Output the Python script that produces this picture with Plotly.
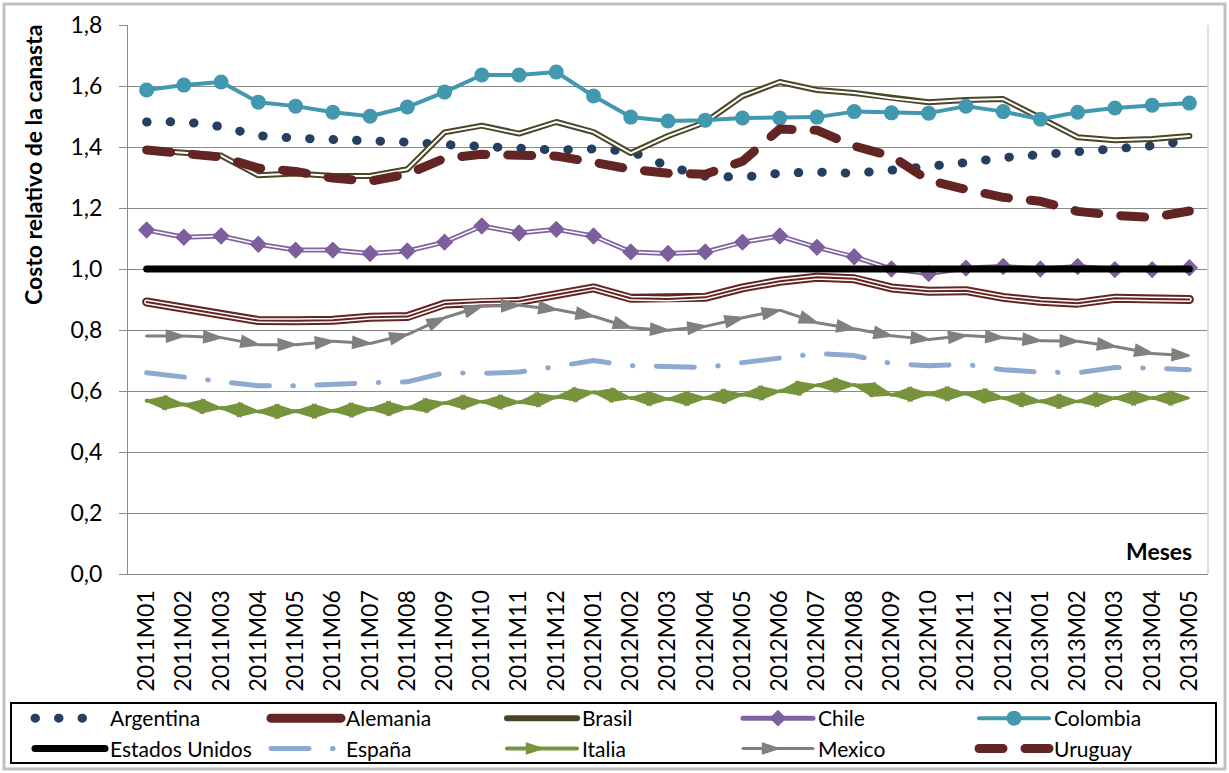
import plotly.graph_objects as go

months = ["2011M01", "2011M02", "2011M03", "2011M04", "2011M05", "2011M06", "2011M07",
          "2011M08", "2011M09", "2011M10", "2011M11", "2011M12", "2012M01", "2012M02",
          "2012M03", "2012M04", "2012M05", "2012M06", "2012M07", "2012M08", "2012M09",
          "2012M10", "2012M11", "2012M12", "2013M01", "2013M02", "2013M03", "2013M04",
          "2013M05"]

argentina = [1.482, 1.483, 1.467, 1.437, 1.429, 1.426, 1.421, 1.416, 1.408, 1.402,
             1.398, 1.390, 1.394, 1.386, 1.337, 1.304, 1.301, 1.314, 1.318, 1.314,
             1.324, 1.334, 1.349, 1.365, 1.376, 1.385, 1.391, 1.404, 1.422]
alemania = [0.892, 0.871, 0.851, 0.831, 0.830, 0.832, 0.842, 0.844, 0.885, 0.892,
            0.894, 0.916, 0.938, 0.904, 0.902, 0.907, 0.938, 0.960, 0.973, 0.968,
            0.938, 0.927, 0.929, 0.907, 0.894, 0.888, 0.904, 0.902, 0.900]
brasil = [1.390, 1.382, 1.372, 1.307, 1.313, 1.305, 1.305, 1.327, 1.448, 1.470,
          1.444, 1.482, 1.449, 1.380, 1.436, 1.481, 1.567, 1.613, 1.587, 1.577,
          1.560, 1.547, 1.554, 1.557, 1.495, 1.432, 1.422, 1.426, 1.436]
chile = [1.128, 1.104, 1.108, 1.081, 1.062, 1.062, 1.051, 1.059, 1.088, 1.141,
         1.118, 1.130, 1.108, 1.056, 1.051, 1.056, 1.088, 1.108, 1.071, 1.040,
         1.000, 0.985, 1.003, 1.008, 1.000, 1.008, 0.998, 0.998, 1.004]
colombia = [1.587, 1.603, 1.613, 1.547, 1.534, 1.514, 1.501, 1.531, 1.580, 1.636,
            1.636, 1.646, 1.567, 1.498, 1.485, 1.488, 1.495, 1.495, 1.498, 1.516,
            1.512, 1.511, 1.534, 1.516, 1.491, 1.514, 1.528, 1.537, 1.544]
estados_unidos = [1.0, 1.0, 1.0, 1.0, 1.0, 1.0, 1.0, 1.0, 1.0, 1.0,
                  1.0, 1.0, 1.0, 1.0, 1.0, 1.0, 1.0, 1.0, 1.0, 1.0,
                  1.0, 1.0, 1.0, 1.0, 1.0, 1.0, 1.0, 1.0, 1.0]
espana = [0.660, 0.647, 0.634, 0.617, 0.617, 0.624, 0.627, 0.630, 0.660, 0.658,
          0.662, 0.680, 0.700, 0.683, 0.680, 0.677, 0.693, 0.708, 0.723, 0.716,
          0.690, 0.683, 0.687, 0.670, 0.662, 0.660, 0.677, 0.675, 0.670]
italia = [0.568, 0.555, 0.544, 0.533, 0.533, 0.535, 0.541, 0.544, 0.561, 0.565,
          0.563, 0.580, 0.596, 0.577, 0.574, 0.577, 0.588, 0.599, 0.619, 0.620,
          0.588, 0.591, 0.591, 0.577, 0.566, 0.566, 0.577, 0.577, 0.577]
mexico = [0.780, 0.780, 0.775, 0.752, 0.752, 0.763, 0.756, 0.785, 0.840, 0.878,
          0.881, 0.867, 0.845, 0.807, 0.799, 0.812, 0.840, 0.865, 0.824, 0.804,
          0.781, 0.769, 0.782, 0.775, 0.765, 0.763, 0.746, 0.723, 0.716]
uruguay = [1.390, 1.377, 1.367, 1.331, 1.320, 1.298, 1.288, 1.311, 1.363, 1.376,
           1.370, 1.370, 1.350, 1.327, 1.314, 1.311, 1.353, 1.459, 1.455, 1.403,
           1.370, 1.291, 1.261, 1.235, 1.222, 1.189, 1.176, 1.169, 1.190]

y_ticks = [0.0, 0.2, 0.4, 0.6, 0.8, 1.0, 1.2, 1.4, 1.6, 1.8]

# ---- layout geometry (pixels) ----
W, H = 1229, 773
ML, MR, MT, MB = 128, 21, 25, 199
PW = W - ML - MR
PH = H - MT - MB


def px_x(px):
    return (px - ML) / PW


def px_y(py):
    return (H - MB - py) / PH


FONT = "Lato"
DARKRED = "#632523"
GREEN = "#77933C"
GRAY = "#808080"
n = len(months)
arrow_sizes_it = [0] + [21] * (n - 1)
arrow_sizes_mx = [0] + [18] * (n - 1)

fig = go.Figure()

# Argentina (round dots)
fig.add_trace(go.Scatter(x=months, y=argentina, name="Argentina", mode="lines",
                         line=dict(color="#243F60", width=9, dash="0.5px,23px")))
# Alemania (triple line)
fig.add_trace(go.Scatter(x=months, y=alemania, name="Alemania", mode="lines",
                         line=dict(color=DARKRED, width=9)))
fig.add_trace(go.Scatter(x=months, y=alemania, mode="lines", showlegend=False,
                         line=dict(color="white", width=5), hoverinfo="skip"))
fig.add_trace(go.Scatter(x=months, y=alemania, mode="lines", showlegend=False,
                         line=dict(color=DARKRED, width=2), hoverinfo="skip"))
# Brasil (double line)
fig.add_trace(go.Scatter(x=months, y=brasil, name="Brasil", mode="lines",
                         line=dict(color="#4A4526", width=6)))
fig.add_trace(go.Scatter(x=months, y=brasil, mode="lines", showlegend=False,
                         line=dict(color="white", width=2), hoverinfo="skip"))
# Chile (double line with diamonds)
fig.add_trace(go.Scatter(x=months, y=chile, name="Chile", mode="lines+markers",
                         line=dict(color="#8064A2", width=5),
                         marker=dict(symbol="diamond", size=13, color="#7E5F9E")))
fig.add_trace(go.Scatter(x=months, y=chile, mode="lines+markers", showlegend=False,
                         line=dict(color="white", width=1.5),
                         marker=dict(symbol="diamond", size=13, color="#7E5F9E"),
                         hoverinfo="skip"))
# Colombia
fig.add_trace(go.Scatter(x=months, y=colombia, name="Colombia", mode="lines+markers",
                         line=dict(color="#4198AF", width=4),
                         marker=dict(symbol="circle", size=15, color="#4198AF")))
# Estados Unidos
fig.add_trace(go.Scatter(x=months, y=estados_unidos, name="Estados Unidos", mode="lines",
                         line=dict(color="black", width=7)))
# España (long dash - dot)
fig.add_trace(go.Scatter(x=months, y=espana, name="España", mode="lines",
                         line=dict(color="#8DA9D1", width=5, dash="38px,23.5px,0.5px,23.5px")))
# Italia (arrow heads at both ends of each segment)
fig.add_trace(go.Scatter(x=months, y=italia, name="Italia", mode="lines+markers",
                         line=dict(color=GREEN, width=4),
                         marker=dict(symbol="arrow", angleref="previous", size=arrow_sizes_it,
                                     opacity=1, color=GREEN, line=dict(color=GREEN, width=2))))
fig.add_trace(go.Scatter(x=months[::-1], y=italia[::-1], mode="markers", showlegend=False,
                         marker=dict(symbol="arrow", angleref="previous", size=arrow_sizes_it,
                                     opacity=1, color=GREEN, line=dict(color=GREEN, width=2)),
                         hoverinfo="skip"))
# Mexico (arrow heads)
fig.add_trace(go.Scatter(x=months, y=mexico, name="Mexico", mode="lines+markers",
                         line=dict(color=GRAY, width=3),
                         marker=dict(symbol="arrow", angleref="previous", size=arrow_sizes_mx,
                                     opacity=1, color=GRAY, line=dict(color=GRAY, width=2))))
# Uruguay (round dashes)
fig.add_trace(go.Scatter(x=months, y=uruguay, name="Uruguay", mode="lines",
                         line=dict(color=DARKRED, width=9, dash="24px,22px")))

GRID = "#8A8A8A"

fig.update_layout(
    width=W, height=H,
    margin=dict(l=ML, r=MR, t=MT, b=MB, pad=0, autoexpand=False),
    paper_bgcolor="white", plot_bgcolor="white",
    separators=",.",
    font=dict(family=FONT, size=22, color="black"),
    showlegend=True,
    legend=dict(orientation="h", x=px_x(30), y=px_y(698), xanchor="left", yanchor="top",
                itemwidth=70, entrywidth=151, entrywidthmode="pixels",
                font=dict(family=FONT, size=21, color="black"),
                bgcolor="rgba(0,0,0,0)", borderwidth=0, traceorder="normal"),
    xaxis=dict(type="category", categoryorder="array", categoryarray=months,
               range=[-0.5, n - 0.5], tickangle=-90, showgrid=False, automargin=False,
               showline=True, linecolor=GRID, linewidth=1, ticks="",
               ticklabelstandoff=6, tickfont=dict(family=FONT, size=23, color="black"),
               zeroline=False),
    yaxis=dict(range=[0, 1.8], tickvals=y_ticks, tickformat=".1f", automargin=False,
               showgrid=True, gridcolor=GRID, gridwidth=1,
               showline=True, linecolor=GRID, linewidth=1,
               ticks="outside", ticklen=8, tickcolor=GRID,
               ticklabelstandoff=12, tickfont=dict(family=FONT, size=23, color="black"),
               zeroline=False),
    shapes=[
        # outer chart frame
        dict(type="rect", xref="paper", yref="paper",
             x0=px_x(4), x1=px_x(1225), y0=px_y(769), y1=px_y(4),
             line=dict(color="#C0C0C0", width=3), fillcolor="rgba(0,0,0,0)", layer="below"),
        # right border of plot area
        dict(type="line", xref="paper", yref="paper", x0=1, x1=1, y0=0, y1=1,
             line=dict(color="#D4D4D4", width=1.5)),
        # legend box
        dict(type="rect", xref="paper", yref="paper",
             x0=px_x(11), x1=px_x(1216), y0=px_y(763), y1=px_y(703),
             line=dict(color="black", width=2), fillcolor="rgba(0,0,0,0)"),
    ],
    annotations=[
        dict(text="<b>Costo relativo de la canasta</b>", xref="paper", yref="paper",
             x=px_x(33), y=px_y(165), textangle=-90, showarrow=False,
             xanchor="center", yanchor="middle",
             font=dict(family=FONT, size=23, color="black")),
        dict(text="<b>Meses</b>", xref="paper", yref="paper",
             x=px_x(1194), y=px_y(551), showarrow=False,
             xanchor="right", yanchor="middle",
             font=dict(family=FONT, size=23, color="black")),
    ],
)

post = ("var gd=document.getElementById('{plot_id}');"
        "gd.querySelectorAll('path.js-line').forEach(function(p){"
        "p.style.strokeLinecap='round';p.style.strokeLinejoin='round';});")

fig.write_html("out.html", post_script=post)
